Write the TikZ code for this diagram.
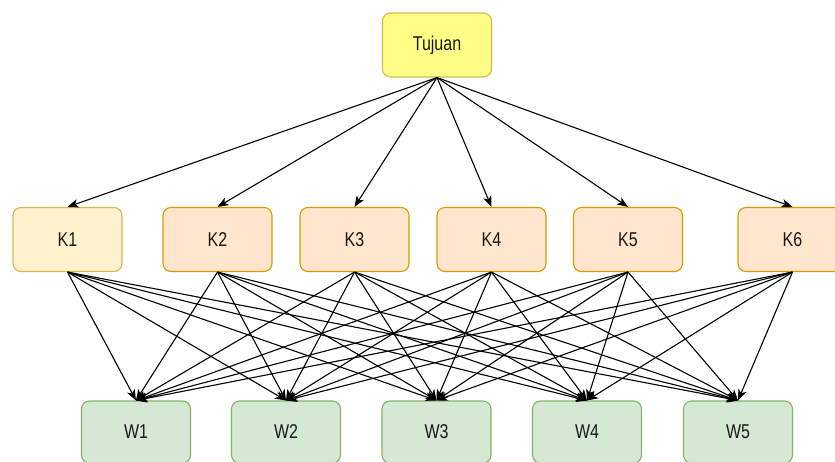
\documentclass[tikz,border=0pt]{standalone}
\usepackage{fontspec}
\setmainfont{Liberation Sans}
\usetikzlibrary{arrows.meta}
\definecolor{tyfill}{HTML}{FFFF88}
\definecolor{tyline}{HTML}{D6B656}
\definecolor{konefill}{HTML}{FFF2CC}
\definecolor{koneline}{HTML}{D6B656}
\definecolor{kfill}{HTML}{FFE6CC}
\definecolor{kline}{HTML}{D79B00}
\definecolor{wfill}{HTML}{D5E8D4}
\definecolor{wline}{HTML}{82B366}
\newcommand{\lbl}[1]{\scalebox{0.8}[1]{#1}}
\tikzset{
  boxbase/.style={rounded corners=8pt, minimum width=109pt, minimum height=64pt, line width=1.1pt, inner sep=0pt,
    font=\fontsize{20pt}{22pt}\selectfont, text=black!90},
  tybox/.style={boxbase, fill=tyfill, draw=tyline},
  konebox/.style={boxbase, fill=konefill, draw=koneline},
  kbox/.style={boxbase, fill=kfill, draw=kline},
  wbox/.style={boxbase, fill=wfill, draw=wline, minimum height=62pt},
  conn/.style={line width=1.1pt, -{Stealth[length=11pt, width=8.5pt, inset=3pt]}}
}
\begin{document}
\begin{tikzpicture}[x=1pt, y=-1pt]
\useasboundingbox (0,0) rectangle (835,461);
\clip (0,0) rectangle (835,461);
\node[tybox] (T) at (437,45) {\lbl{Tujuan}};
\node[konebox] (K1) at (67.5,239.5) {\lbl{K1}};
\node[kbox] (K2) at (217.5,239.5) {\lbl{K2}};
\node[kbox] (K3) at (354.5,239.5) {\lbl{K3}};
\node[kbox] (K4) at (491.5,239.5) {\lbl{K4}};
\node[kbox] (K5) at (628,239.5) {\lbl{K5}};
\node[kbox] (K6) at (792.5,239.5) {\lbl{K6}};
\node[wbox] (W1) at (136,432) {\lbl{W1}};
\node[wbox] (W2) at (286,432) {\lbl{W2}};
\node[wbox] (W3) at (436.5,432) {\lbl{W3}};
\node[wbox] (W4) at (587,432) {\lbl{W4}};
\node[wbox] (W5) at (738,432) {\lbl{W5}};
\foreach \k in {1,...,6} {
  \draw[conn] (T.south) -- (K\k.north);
}
\foreach \k in {1,...,6} {
  \foreach \w in {1,...,5} {
    \draw[conn] (K\k.south) -- (W\w.north);
  }
}
\end{tikzpicture}
\end{document}
